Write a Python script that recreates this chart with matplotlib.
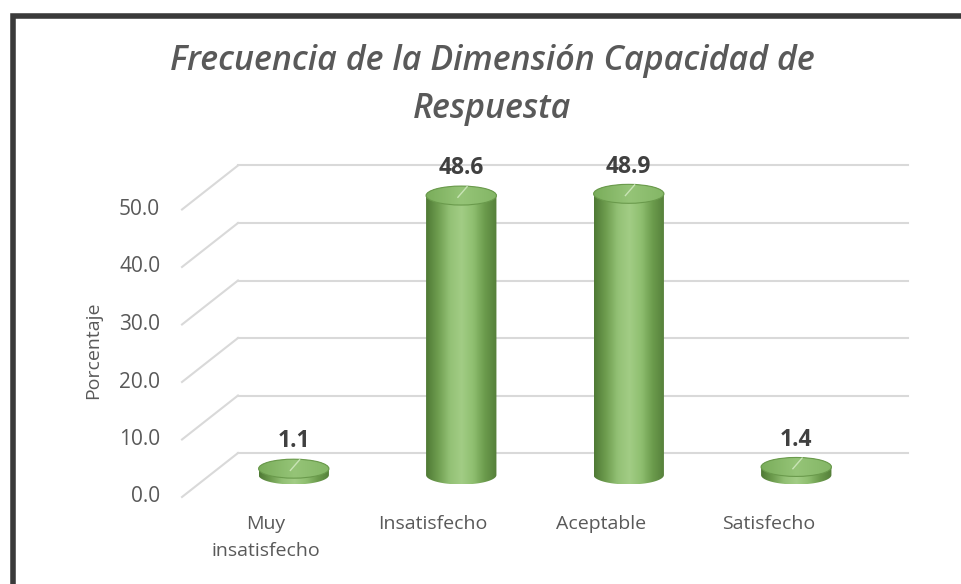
import numpy as np
import matplotlib
matplotlib.use("Agg")
import matplotlib.pyplot as plt
from matplotlib.patches import Ellipse, PathPatch
from matplotlib.path import Path
from matplotlib.colors import LinearSegmentedColormap
from matplotlib.lines import Line2D

# data
categories = ["Muy\ninsatisfecho", "Insatisfecho", "Aceptable", "Satisfecho"]
values = [1.1, 48.6, 48.9, 1.4]
yticks = [0, 10, 20, 30, 40, 50]
title = "Frecuencia de la Dimensión Capacidad de\nRespuesta"
ylabel = "Porcentaje"

# fake 3d geometry (pixels of the 962x584 picture)
W, H = 962, 584
PX_CAT = 167.5          # pixels per category
PX_VAL = 5.75           # pixels per percent
X0, Y0 = 182, 87        # front-left corner of the floor (from bottom)
DX = 56 / PX_CAT        # depth offset, category units
DY = 44 / PX_VAL        # depth offset, value units
BAR_W = 0.42
ELL_H = 3.3

FONT = "Open Sans"
GRID = "#d9d9d9"
TXT = "#595959"

body_cmap = LinearSegmentedColormap.from_list(
    "cyl", ["#4f7a35", "#6e9d4f", "#93c175", "#a2cd85", "#8fbf70", "#6b9b4c", "#557f3a"])
top_cmap = LinearSegmentedColormap.from_list("top", ["#7aad5b", "#95c477", "#84b666"])


def cylinder(ax, cx, yb, h):
    t1 = np.linspace(np.pi, 2 * np.pi, 60)
    t2 = np.linspace(0, np.pi, 60)
    xs = np.concatenate([cx + BAR_W / 2 * np.cos(t1), cx + BAR_W / 2 * np.cos(t2)])
    ys = np.concatenate([yb + ELL_H / 2 * np.sin(t1), yb + h + ELL_H / 2 * np.sin(t2)])
    patch = PathPatch(Path(np.column_stack([xs, ys])), facecolor="none", edgecolor="none")
    ax.add_patch(patch)
    grad = np.linspace(0, 1, 200).reshape(1, -1)
    im = ax.imshow(grad, cmap=body_cmap, aspect="auto", zorder=3,
                   extent=[cx - BAR_W / 2, cx + BAR_W / 2, yb - ELL_H / 2, yb + h + ELL_H / 2])
    im.set_clip_path(patch)
    top = Ellipse((cx, yb + h), BAR_W, ELL_H, facecolor="none",
                  edgecolor="#6a9a4c", linewidth=0.8, zorder=5)
    ax.add_patch(top)
    im2 = ax.imshow(grad, cmap=top_cmap, aspect="auto", zorder=4,
                    extent=[cx - BAR_W / 2, cx + BAR_W / 2, yb + h - ELL_H / 2, yb + h + ELL_H / 2])
    im2.set_clip_path(top)
    # little light stroke on the top face
    ax.plot([cx - 0.02, cx + 0.035], [yb + h - 0.3, yb + h + ELL_H / 2 - 0.1],
            color="#c9e4b6", lw=1.0, zorder=6)


fig = plt.figure(figsize=(W / 100, H / 100), dpi=100)
ax = fig.add_axes([0, 0, 1, 1])
ax.axis("off")

# gridlines: diagonal on the side wall + horizontal on back wall
for v in yticks:
    ax.plot([-0.5, -0.5 + DX], [v, v + DY], color=GRID, lw=1.5, zorder=1)
    ax.plot([-0.5 + DX, len(categories) - 0.5 + DX], [v + DY, v + DY],
            color=GRID, lw=1.5, zorder=1)
    ax.text(-0.63, v, f"{v:.1f}", ha="right", va="center", fontsize=15,
            color=TXT, family=FONT)

# cylinders in the middle of the depth
for i, val in enumerate(values):
    cx = i + DX / 2
    yb = DY / 2
    cylinder(ax, cx, yb, val)
    ax.text(cx, yb + val + ELL_H / 2 + 1.0, f"{val:.1f}", ha="center", va="bottom",
            fontsize=16.5, fontweight="bold", color="#404040", family=FONT, zorder=7)

for i, lab in enumerate(categories):
    ax.text(i, -3.2, lab, ha="center", va="top", fontsize=14, color=TXT,
            family=FONT, linespacing=1.65)

ax.text(-1.03, 25.5, ylabel, rotation=90, ha="center", va="center",
        fontsize=14, color=TXT, family=FONT)

ax.set_xlim(-0.5 - X0 / PX_CAT, -0.5 + (W - X0) / PX_CAT)
ax.set_ylim(-Y0 / PX_VAL, (H - Y0) / PX_VAL)

fig.text(492 / W, 1 - 85 / H, title, ha="center", va="center", fontsize=24.5,
         style="italic", fontweight="semibold", color=TXT, family=FONT,
         linespacing=1.55)

# dark frame (only top and left edges visible in the crop)
fig.add_artist(Line2D([12.5 / W, 12.5 / W, 1], [0, 1 - 16 / H, 1 - 16 / H],
                      transform=fig.transFigure, color="#3a3a3a", lw=4,
                      solid_joinstyle="miter"))

fig.savefig("out.png", dpi=100)
